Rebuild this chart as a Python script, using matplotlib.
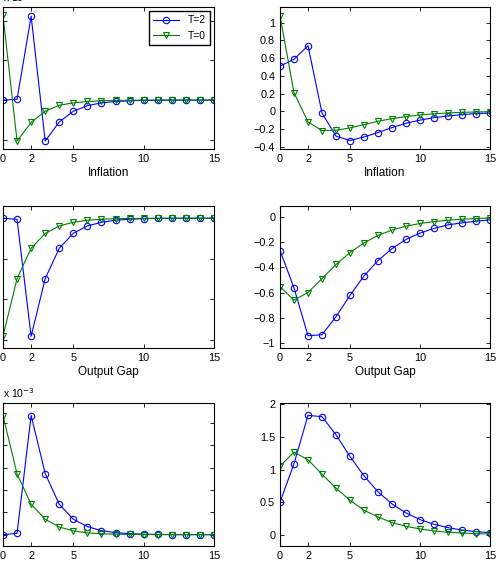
import matplotlib.pyplot as plt

plt.rcParams['font.family'] = ['Liberation Sans', 'DejaVu Sans']

t = list(range(16))

# top row (Inflation)
infl_left_T2 = [0, 0.02, 2.11, -1.03, -0.55, -0.28, -0.14, -0.07, -0.035, -0.017, -0.008,
                -0.004, -0.002, -0.001, 0, 0]
infl_left_T0 = [2.13, -1.03, -0.56, -0.28, -0.13, -0.07, -0.035, -0.017, -0.008, -0.004,
                -0.002, -0.001, 0, 0, 0, 0]
infl_right_T2 = [0.51, 0.587, 0.741, -0.02, -0.28, -0.33, -0.29, -0.24, -0.184, -0.135,
                 -0.10, -0.072, -0.053, -0.038, -0.026, -0.02]
infl_right_T0 = [1.076, 0.21, -0.12, -0.218, -0.214, -0.188, -0.15, -0.113, -0.083, -0.06,
                 -0.041, -0.028, -0.019, -0.012, -0.008, -0.005]

# middle row (Output Gap)
gap_left_T2 = [0, -0.03, -2.91, -1.49, -0.74, -0.37, -0.19, -0.10, -0.05, -0.025, -0.012,
               -0.006, -0.003, -0.001, 0, 0]
gap_left_T0 = [-2.91, -1.49, -0.74, -0.376, -0.19, -0.10, -0.05, -0.025, -0.012, -0.006,
               -0.003, -0.001, 0, 0, 0, 0]
gap_right_T2 = [-0.266, -0.561, -0.94, -0.932, -0.789, -0.621, -0.467, -0.345, -0.251, -0.178,
                -0.128, -0.091, -0.063, -0.047, -0.034, -0.023]
gap_right_T0 = [-0.551, -0.658, -0.598, -0.488, -0.376, -0.282, -0.206, -0.146, -0.104, -0.073,
                -0.052, -0.037, -0.026, -0.018, -0.013, -0.008]

# bottom row
bot_left_T2 = [0, 0.06, 5.34, 2.74, 1.36, 0.69, 0.36, 0.18, 0.09, 0.045, 0.02, 0.01, 0.005,
               0.002, 0.001, 0]
bot_left_T0 = [5.34, 2.72, 1.36, 0.69, 0.34, 0.17, 0.08, 0.04, 0.02, 0.01, 0.005, 0.002,
               0.001, 0, 0, 0]
bot_right_T2 = [0.504, 1.09, 1.827, 1.807, 1.532, 1.201, 0.906, 0.662, 0.478, 0.341, 0.239,
                0.168, 0.117, 0.081, 0.056, 0.041]
bot_right_T0 = [1.053, 1.267, 1.15, 0.931, 0.718, 0.534, 0.382, 0.28, 0.193, 0.137, 0.097,
                0.066, 0.046, 0.036, 0.025, 0.02]

fig = plt.figure(figsize=(5, 5.61), dpi=100)

panels = [
    # rect, T=2, T=0, ylim, yticks, xlabel, offset text
    ([0.006, 0.7344, 0.422, 0.253], infl_left_T2, infl_left_T0, (-1.23, 2.34), [-1, 0, 1, 2], 'Inflation', 'x 10$^{-3}$'),
    ([0.56, 0.7344, 0.42, 0.253], infl_right_T2, infl_right_T0, (-0.426, 1.177),
     [-0.4, -0.2, 0, 0.2, 0.4, 0.6, 0.8, 1], 'Inflation', None),
    ([0.006, 0.3797, 0.422, 0.253], gap_left_T2, gap_left_T0, (-3.2, 0.3), [-3, -2, -1, 0], 'Output Gap', None),
    ([0.56, 0.3797, 0.42, 0.253], gap_right_T2, gap_right_T0, (-1.037, 0.086),
     [-1, -0.8, -0.6, -0.4, -0.2, 0], 'Output Gap', None),
    ([0.006, 0.0267, 0.422, 0.2549], bot_left_T2, bot_left_T0, (-0.51, 5.9), [0, 1, 2, 3, 4, 5], None, 'x 10$^{-3}$'),
    ([0.56, 0.0267, 0.42, 0.2549], bot_right_T2, bot_right_T0, (-0.163, 2.015), [0, 0.5, 1, 1.5, 2], None, None),
]

for rect, y2, y0, ylim, yticks, xlabel, offs in panels:
    ax = fig.add_axes(rect)
    ax.plot(t, y2, color='#0000ff', marker='o', markersize=4.6, markerfacecolor='none',
            linewidth=0.8, markeredgewidth=0.8, label='T=2')
    ax.plot(t, y0, color='#008000', marker='v', markersize=4.6, markerfacecolor='none',
            linewidth=0.8, markeredgewidth=0.8, label='T=0')
    ax.set_xlim(0, 15)
    ax.set_ylim(*ylim)
    ax.set_xticks([0, 2, 5, 10, 15])
    ax.set_yticks(yticks)
    ax.set_yticklabels([('%g' % v).replace('-', '\u2212') for v in yticks])
    ax.tick_params(direction='in', top=True, right=True, labelsize=7.8, length=3, width=0.6)
    for s in ax.spines.values():
        s.set_linewidth(0.8)
    if xlabel:
        ax.set_xlabel(xlabel, fontsize=8.5, labelpad=2)
    if offs:
        ax.text(0.0, 1.02, offs, transform=ax.transAxes, fontsize=7.5, va='bottom', ha='left')

fig.axes[0].legend(loc='upper right', fontsize=7.5, fancybox=False, edgecolor='black',
                   framealpha=1, handlelength=2.5, borderaxespad=0.4)

fig.savefig('out.png', dpi=100)
